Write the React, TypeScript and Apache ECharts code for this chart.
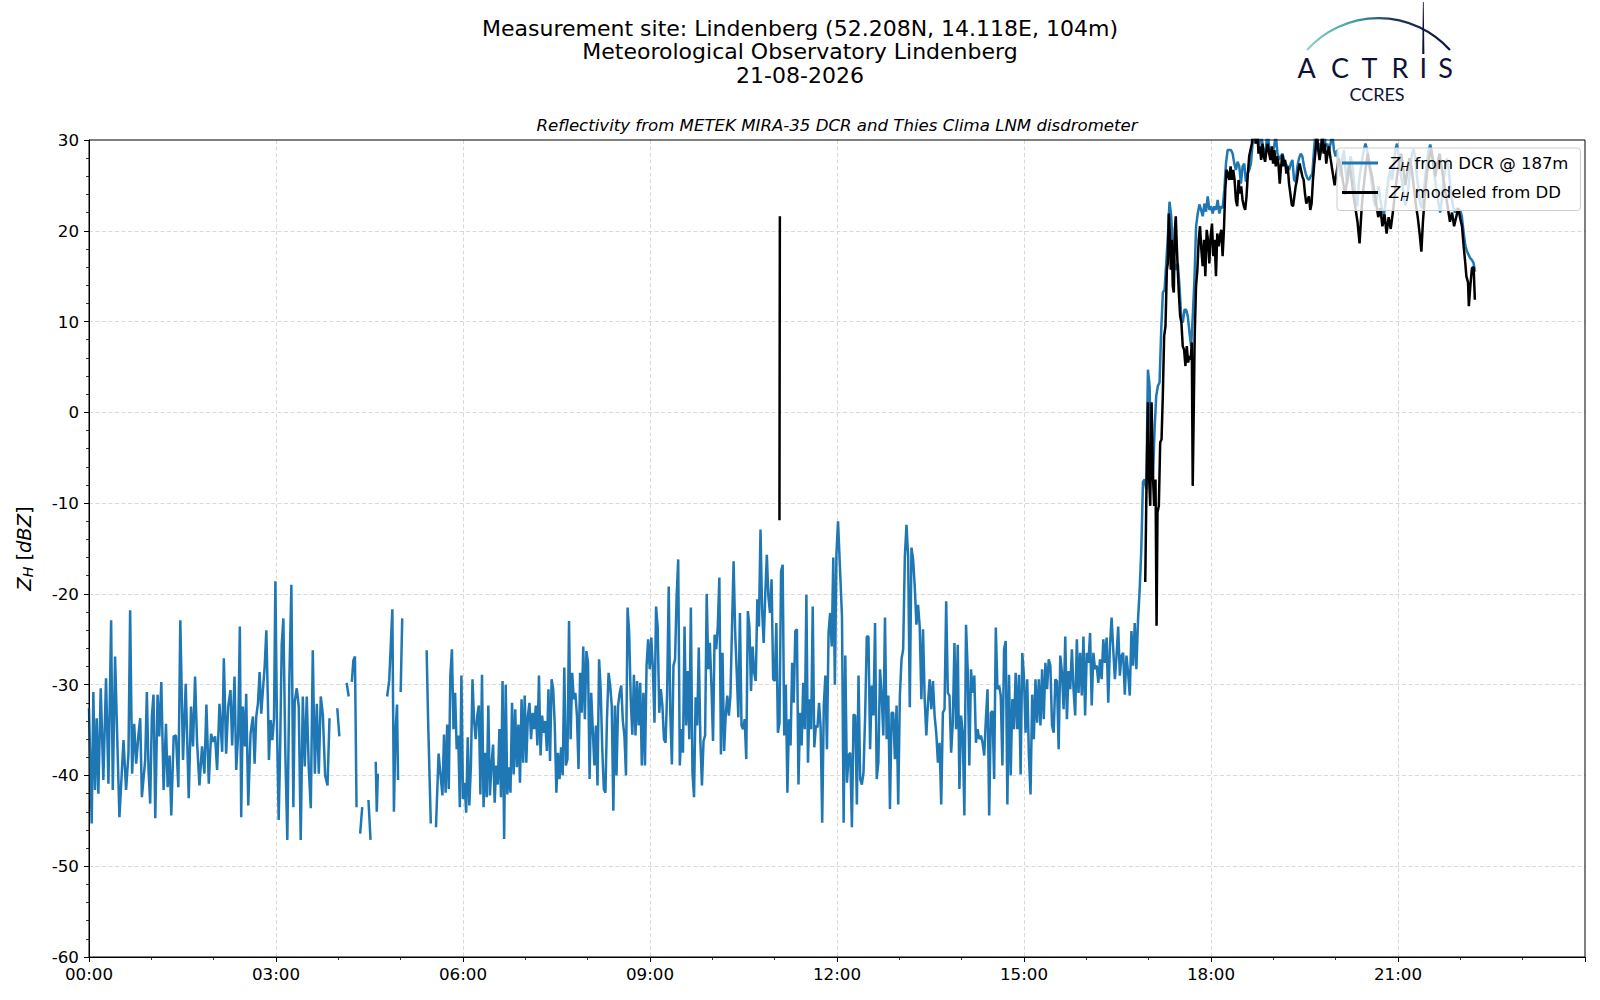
import React, { useEffect, useRef } from "react";
import * as echarts from "echarts";

type Pt = [number, number | null];

// ---------------- texts ----------------
const TITLE_LINES = [
  "Measurement site: Lindenberg (52.208N, 14.118E, 104m)",
  "Meteorological Observatory Lindenberg",
  "21-08-2026",
];
const SUBTITLE = "Reflectivity from METEK MIRA-35 DCR and Thies Clima LNM disdrometer";
const DCR_NAME = "Z_H from DCR @ 187m";
const DD_NAME = "Z_H modeled from DD";

// ---------------- axes ----------------
const X_MIN = 0; // minutes of the day
const X_MAX = 1440;
const X_TICK = 180;
const Y_MIN = -60;
const Y_MAX = 30;
const Y_TICK = 10;

// ---------------- Z_H from DCR (minute, dBZ) ----------------
const dcrNight: Pt[] = [
  [0, -32.6], [2.6, -45.3], [4.2, -30.8], [5.8, -41.6], [7.4, -33.7], [9.0, -42.0], [11.3, -30.4], [13.8, -40.5],
  [16.4, -29.3], [18.7, -40.9], [21.3, -22.9], [22.9, -41.6], [25.1, -26.9], [27.4, -36.8], [29.3, -44.6], [33.2, -36.1],
  [35.7, -41.6], [38.0, -37.6], [39.6, -21.8], [41.5, -39.8], [43.5, -34.3], [45.4, -38.7], [47.7, -35.4], [49.3, -33.7],
  [50.9, -42.4], [54.1, -38.3], [55.7, -30.8], [57.3, -39.4], [58.9, -43.1], [60.5, -33.5], [62.1, -31.1], [63.8, -44.7],
  [66.0, -31.1], [67.6, -35.7], [69.6, -29.7], [71.8, -41.6], [74.1, -34.3], [75.7, -41.3], [77.6, -37.8], [79.2, -44.4],
  [81.5, -35.7], [83.7, -35.6], [86.0, -41.3], [87.9, -22.9], [90.5, -38.3], [93.1, -29.9], [96.0, -42.5], [98.2, -32.4],
  [100.1, -36.8], [102.1, -29.1], [104.0, -36.3], [106.3, -41.1], [108.8, -36.8], [111.1, -39.8], [113.0, -32.2], [115.3, -40.9],
  [117.5, -35.4], [119.5, -36.3], [121.4, -35.7], [123.3, -39.4], [125.6, -32.1], [128.2, -37.4], [129.8, -27.1], [132.0, -37.6],
  [134.0, -32.4], [136.2, -30.6], [137.8, -36.7], [140.1, -29.1], [141.7, -39.4], [143.6, -35.4], [145.2, -23.6], [146.5, -44.6],
  [148.1, -32.4], [150.1, -36.8], [151.3, -31.0], [153.3, -43.3], [155.5, -35.4], [157.8, -33.5], [159.4, -38.7], [161.0, -33.5],
  [162.6, -32.1], [164.2, -28.6], [165.8, -33.2], [167.4, -30.6], [169.1, -28.0], [170.7, -24.0], [172.3, -32.4], [173.2, -38.3],
  [174.8, -33.9], [176.5, -36.1], [178.1, -33.7], [179.4, -18.6], [181.0, -34.8], [182.6, -44.9], [183.9, -37.6], [185.5, -25.6],
  [187.1, -22.7], [189.0, -37.6], [190.9, -47.1], [192.9, -29.1], [194.8, -19.0], [196.7, -43.5], [198.0, -31.9], [200.0, -30.4],
  [201.9, -32.4], [203.8, -47.1], [205.8, -31.3], [207.7, -39.0], [209.6, -31.3], [211.6, -39.4], [213.5, -43.6], [215.4, -26.2],
  [217.4, -39.8], [219.3, -32.1], [221.2, -39.8], [223.1, -31.3], [225.1, -33.3], [227.3, -40.0], [229.6, -41.1], [231.5, -33.7],
  [235, null], [239, -32.6], [241, -35.7], [244, null], [248, -29.8], [250, -31.3], [251.5, null],
  [253, -29.7], [254.5, -27.3], [256, -26.9], [257.5, -43.5], [259, null], [261, -46.4], [263, -43.5], [265, null],
  [269, -42.7], [271, -47.1], [273, null], [276, -38.5], [277, -44.0], [278, -39.8], [282, null],
  [287, -31.3], [289, -29.5], [292, -21.7], [293.5, -44.0], [295, -35.2], [296.5, -32.2], [297.5, -40.5], [298.8, null],
  [300, -30.8], [301.5, -22.7], [310, null], [325, -26.2], [326.5, -34.3], [329, -45.3], [331, null],
  [334, -45.7], [336.5, -37.6],
];

const dcrMorningStart = 340.2;
const dcrMorningStep = 1.5232;
const dcrMorning = [
  -42.2, -35.5, -41.9, -34.4, -41.5, -29.0, -26.1, -34.9, -30.9, -37.1,
  -35.6, -43.5, -29.0, -42.6, -40.8, -44.1, -35.8, -43.3, -38.9, -29.4,
  -34.0, -36.0, -33.4, -32.3, -42.1, -28.9, -43.5, -37.5, -42.4, -32.3,
  -42.2, -38.9, -36.6, -43.0, -38.9, -41.0, -34.9, -42.4, -29.6, -47.0,
  -30.0, -42.1, -39.1, -41.9, -32.0, -39.9, -32.7, -39.1, -34.4, -40.8,
  -31.6, -38.6, -31.2, -38.6, -33.4, -32.0, -36.0, -33.1, -34.9, -32.3,
  -36.7, -29.0, -37.8, -33.4, -35.3, -34.0, -37.3, -30.5, -38.4, -29.4,
  -30.5, -34.5, -41.9, -37.5, -40.4, -36.9, -40.0, -28.1, -38.9, -38.2,
  -23.0, -36.0, -28.7, -31.6, -30.9, -33.4, -39.3, -28.7, -33.1, -25.8,
  -33.8, -26.3, -27.6, -40.4, -30.9, -34.9, -38.9, -34.5, -41.1, -27.2,
  -30.5, -37.1, -41.5, -41.9, -33.6, -28.7, -30.1, -32.3, -43.9, -32.3,
  -40.0, -32.3, -30.9, -30.1, -34.0, -35.6, -40.0, -21.5, -24.3, -31.6,
  -35.5, -28.9, -35.6, -29.6, -34.5, -29.8, -38.9, -30.9, -38.9, -27.9,
  -25.0, -28.3, -24.8, -28.3, -34.2, -21.4, -23.6, -33.1, -30.5, -32.3,
  -36.0, -36.4, -30.9, -19.2, -33.1, -38.8, -27.9, -27.2, -20.3, -16.2,
  -38.9, -34.9, -37.5, -23.6, -34.5, -28.5, -36.0, -21.5, -39.7, -42.4,
  -31.4, -34.5, -25.9, -36.2, -41.1, -36.2, -35.6, -20.0, -28.3, -25.4,
  -30.1, -36.2, -24.5, -26.1, -23.6, -18.2, -37.7, -26.5, -37.3, -33.4,
  -31.2, -33.4, -31.2, -23.6, -16.4, -24.3, -28.7, -33.6, -22.1, -34.5,
  -34.9, -33.8, -38.2, -21.9, -23.6, -30.7, -25.8, -28.7, -29.6, -20.6,
  -23.6, -12.9, -21.7, -25.4, -20.1, -15.7, -20.3, -22.1, -18.4, -29.4,
  -29.6, -23.2, -35.3, -34.2, -17.5, -16.8, -35.6, -30.0, -41.9, -33.8,
  -36.7, -27.6, -32.0, -24.1, -23.9, -41.0, -33.1, -36.7, -29.8, -34.9,
  -20.1, -38.6, -31.6, -34.9, -21.4, -36.9, -34.5, -34.7, -32.0, -34.7,
  -45.2, -32.3, -29.0, -37.1, -24.3, -22.1, -25.8, -16.0, -30.0, -15.5,
  -12.0,
];

const dcrAfternoonStart = 724.8;
const dcrAfternoonStep = 1.592;
const dcrAfternoon = [
  -22.5, -45.2, -26.8, -40.8, -37.8, -37.5, -45.7, -33.3, -33.4, -43.2,
  -29.0, -40.4, -41.0, -39.7, -33.4, -24.7, -24.7, -37.1, -30.1, -33.4,
  -23.2, -40.4, -38.6, -28.3, -31.2, -35.6, -22.6, -36.0, -31.2, -43.7,
  -33.1, -33.1, -38.2, -32.3, -43.2, -31.2, -27.2, -26.1, -15.9, -12.4,
  -15.9, -32.5, -14.9, -16.2, -19.2, -23.4, -21.2, -23.6, -31.6, -23.9,
  -31.6, -35.6, -32.0, -29.4, -32.7, -29.6, -33.4, -35.3, -38.6, -36.4,
  -43.2, -33.1, -32.7, -20.8, -30.9, -31.2, -37.5, -34.2, -25.4, -34.9,
  -25.6, -41.5, -33.4, -35.3, -44.4, -23.4, -28.3, -38.9, -28.3, -30.9,
  -29.0, -36.4, -34.9, -36.0, -35.6, -36.4, -37.8, -33.8, -30.5, -44.4,
  -33.1, -32.9, -40.4, -23.7, -30.5, -30.1, -31.2, -38.9, -26.1, -25.2,
  -43.2, -28.9, -40.0, -31.6, -34.9, -28.7, -34.9, -28.9, -39.9, -26.5,
  -29.0, -35.3, -29.4, -37.8, -42.1, -31.1, -36.0, -29.4, -34.2, -29.4,
  -34.5, -28.3, -33.8, -27.6, -30.5, -27.2, -27.9, -34.5, -35.3, -29.4,
  -29.6, -37.1, -26.8, -28.7, -32.7, -24.7, -33.8, -28.5, -30.5, -26.1,
  -30.5, -33.4, -25.0, -30.9, -26.5, -31.2, -24.7, -33.4, -26.5, -27.6,
  -24.3, -32.3, -26.5, -28.3, -27.9, -29.8, -27.2, -29.4, -25.0, -27.6,
  -24.8, -32.0, -25.8, -22.6, -26.1, -29.4, -26.8, -23.6, -29.0, -26.8,
  -26.5, -31.1, -26.8, -28.7, -31.2, -24.1, -27.9, -23.2, -28.3, -22.8,
  -19.5,
];

const dcrStormStart = 1012.9;
const dcrStormStep = 1.5985;
const dcrStorm = [
  -15.1, -7.7, -7.4, -8.5, 4.7, 2.9, -5.5, -7.4, -1.9, 1.8,
  2.9, 3.3, 9.1, 13.2, 13.5, 16.4, 19.4, 23.2, 21.6, 17.9,
  16.4, 15.7, 16.4, 13.9, 10.6, 9.9, 11.3, 11.3, 10.6, 8.8,
  7.3, 10.6, 14.6, 20.5, 21.9, 22.9, 22.3, 21.6, 23.0, 22.1,
  23.8, 22.3, 22.7, 21.9, 22.7, 22.3, 23.4, 21.9, 22.7, 22.5,
  24.5, 27.4, 28.9, 28.9, 28.9, 28.5, 27.4, 26.7, 27.6, 27.1,
  25.2, 27.1, 27.4, 25.4, 26.3, 26.7, 27.4, 29.6, 30.4,
  29.6, 31.5, 29.3, 30.8, 29.6, 28.5, 28.9, 31.2, 29.3, 28.2,
  28.5, 29.3, 30.6, 28.5, 27.8, 28.2, 28.5, 27.8, 27.4, 27.1,
  26.7, 27.4, 27.8, 25.6, 25.4, 27.1, 28.0, 28.5, 28.2, 27.1,
  26.3, 25.8, 25.6, 26.0, 26.3, 28.9, 31.0, 29.6, 29.6, 28.9,
  29.6, 31.4, 29.3, 29.6, 28.9, 29.6, 30.8, 28.9,
  28.2, 28.9, 27.4, 26.0, 27.8, 28.9, 26.7, 25.2, 26.3, 28.2,
  27.4, 25.6, 23.8, 22.7, 25.2, 26.7, 27.8, 28.9, 29.6, 28.9,
  27.4, 26.3, 24.9, 23.4, 22.7, 23.8, 24.9, 23.4, 22.3, 21.6,
  23.0, 24.5, 26.0, 26.7, 25.6, 27.1, 28.9, 29.6, 28.2,
  26.5, 25.5, 24.0, 22.8, 23.5, 25.0, 27.0, 28.5, 29.0, 28.0,
  26.0, 24.5, 23.0, 22.5, 24.0, 26.0, 27.5, 28.8, 29.5, 28.5,
  27.0, 25.5, 24.0, 23.0, 22.0, 23.5, 25.5, 27.0, 28.0, 27.0,
  25.0, 23.5, 22.5, 22.0, 22.5, 22.0, 22.3, 21.6, 20.0, 18.5,
  17.8, 17.4, 17.0, 16.8, 16.5, 15.5,
];

// ---------------- Z_H modeled from DD (minute, dBZ) ----------------
const ddSpike: Pt[] = [[664.6, -11.9], [665.0, 21.6], [700, null]];

const ddRise: Pt[] = [
  [1016.7, -18.7], [1017.7, -9.9], [1019.3, 1.1], [1020.2, -6.6], [1021.5, -10.3], [1022.8, 1.1], [1024.1, -7.0],
  [1025.3, -10.3], [1026.6, -7.4], [1027.6, -23.5], [1028.5, -11.0], [1029.8, -10.3], [1031.1, -3.3], [1032.4, -3.0],
  [1033.6, 1.8], [1034.9, 8.4], [1036.2, 9.5], [1037.5, 15.7], [1038.4, 16.4], [1039.4, 21.9], [1040.4, 19.7],
  [1041.3, 15.7], [1042.3, 19.0], [1043.2, 13.9], [1044.2, 13.2], [1045.2, 20.1], [1046.1, 21.6], [1047.1, 18.3],
  [1048.0, 15.7], [1049.0, 13.2], [1050.3, 10.6], [1051.5, 9.9], [1052.8, 7.3], [1054.1, 6.9], [1055.4, 5.1],
  [1056.7, 7.3], [1058.0, 5.5], [1059.2, 6.2], [1060.5, 5.8], [1061.5, 7.7], [1062.4, -8.1], [1063.4, 0.3],
  [1064.3, 8.4],
];

const ddHighStart = 1065.6;
const ddHighStep = 1.2788;
const ddHigh = [
  13.9, 15.7, 19.0, 20.5, 17.9, 16.1, 19.0, 15.0, 20.1, 19.0,
  16.4, 19.4, 20.8, 17.2, 19.0, 15.0, 19.7, 18.3, 19.4, 20.1,
  17.2, 20.1, 24.5, 26.7, 26.3, 25.6, 27.1, 25.6, 26.7, 25.6,
  23.4, 22.7, 25.6, 24.1, 24.9, 23.4, 22.7, 22.3, 23.8, 26.3,
  28.2, 28.9, 29.6, 31.0, 32.0, 29.6, 31.5, 28.5, 29.3, 27.8,
  29.6, 28.2, 27.6, 28.9, 29.6, 28.5, 27.8, 29.3, 27.4, 28.9,
  27.1, 28.2, 27.4, 25.2, 27.1, 28.4, 27.1, 27.8, 26.3, 27.1,
  25.2, 24.1, 22.9, 22.7, 23.8, 24.9, 25.6, 26.7, 27.4, 26.7,
  26.0, 25.6, 24.1, 23.0, 23.4, 23.8, 22.3, 23.0, 25.6, 27.4,
  28.9, 30.8, 28.9, 27.8, 28.9, 31.0, 28.5, 29.6, 27.4, 28.5,
  29.3,
];

const ddTail: Pt[] = [
  [1195, 28.0], [1197, 26.5], [1199, 25.0], [1201, 26.5], [1203, 28.0], [1205, 27.0], [1207, 25.5], [1209, 24.0],
  [1211, 25.5], [1213, 27.5], [1215, 26.0], [1217, 24.0], [1219, 22.5], [1221, 21.0], [1223, 18.6], [1225, 22.5],
  [1227, 25.0], [1229, 27.0], [1231, 28.5], [1233, 27.0], [1235, 26.0], [1237, 24.5], [1239, 23.0], [1241, 21.5],
  [1243, 22.5], [1245, 20.5], [1247, 21.8], [1249, 19.7], [1251, 21.5], [1253, 20.2], [1255, 22.0], [1257, 24.0],
  [1259, 26.0], [1261, 27.5], [1263, 28.5], [1265, 27.0], [1267, 25.0], [1269, 26.5], [1271, 28.0], [1273, 27.0],
  [1275, 25.0], [1277, 23.0], [1279, 21.5], [1281, 19.5], [1282.5, 17.7], [1284, 21.0], [1286, 24.0], [1288, 26.5],
  [1290, 28.0], [1292, 29.0], [1294, 27.5], [1296, 26.0], [1298, 27.5], [1300, 28.5], [1302, 27.0], [1304, 25.5],
  [1306, 24.0], [1308, 22.5], [1310, 21.0], [1312, 22.0], [1314, 20.5], [1316, 21.5], [1318, 22.5], [1320, 21.3],
  [1321.6, 20.5], [1323.2, 18.3], [1324.8, 16.4], [1325.8, 15.0], [1327.4, 14.3], [1328.2, 11.7], [1329.6, 13.9],
  [1331.2, 15.9], [1332.8, 16.0], [1334, 12.4],
];

// ---------------- helpers ----------------
const seg = (start: number, step: number, vals: number[]): Pt[] =>
  vals.map((v, i) => [Math.round((start + i * step) * 100) / 100, v] as Pt);
const toData = (pts: Pt[]) => pts.map(([t, v]) => [t, v === null ? "-" : v]);

const dcrData = toData([
  ...dcrNight,
  ...seg(dcrMorningStart, dcrMorningStep, dcrMorning),
  ...seg(dcrAfternoonStart, dcrAfternoonStep, dcrAfternoon),
  ...seg(dcrStormStart, dcrStormStep, dcrStorm),
]);
const ddData = toData([...ddSpike, ...ddRise, ...seg(ddHighStart, ddHighStep, ddHigh), ...ddTail]);

const FONT = "DejaVu Sans";
const NAVY = "#0f1238";

const richFor = (size: number, lh: number) => ({
  i: { fontStyle: "italic", fontSize: size, lineHeight: lh, fontFamily: FONT, color: "#000" },
  s: { fontStyle: "italic", fontSize: Math.round(size * 0.7), lineHeight: Math.round(lh * 0.5), verticalAlign: "bottom", fontFamily: FONT, color: "#000" },
  n: { fontSize: size, lineHeight: lh, fontFamily: FONT, color: "#000" },
});

const legendLabel = (name: string) =>
  name === DCR_NAME ? "{i|Z}{s|H}{n| from DCR @ 187m}" : "{i|Z}{s|H}{n| modeled from DD}";

const hhmm = (v: number) => {
  if (v >= X_MAX) return "";
  const h = Math.floor(v / 60);
  const m = Math.round(v % 60);
  return String(h).padStart(2, "0") + ":" + String(m).padStart(2, "0");
};

const logoLetters: [string, number][] = [
  ["A", 1306.7], ["C", 1340], ["T", 1369.5], ["R", 1400], ["I", 1423.3], ["S", 1445.7],
];

export default function App() {
  const ref = useRef<HTMLDivElement>(null);
  useEffect(() => {
    if (!ref.current) return;
    const chart = echarts.init(ref.current, undefined, { renderer: "svg" });
    const gridLine = { color: "#cfcfcf", width: 0.8, type: [4, 2.5] as number[] };
    const option: any = {
      animation: false,
      backgroundColor: "#ffffff",
      textStyle: { fontFamily: FONT },
      title: {
        text: TITLE_LINES.join("\n"),
        left: "center",
        top: 16.5,
        padding: 0,
        textStyle: { fontSize: 22, fontWeight: "normal", color: "#000", lineHeight: 23.5, fontFamily: FONT },
      },
      grid: { left: 89, right: 15, top: 140, bottom: 43, show: true, borderColor: "#000", borderWidth: 1, z: 10 },
      legend: {
        orient: "vertical",
        left: 1337,
        top: 148,
        icon: "rect",
        itemWidth: 36,
        itemHeight: 2.8,
        itemGap: 11,
        padding: [6.5, 12, 8, 5],
        backgroundColor: "rgba(255,255,255,0.8)",
        borderColor: "#cccccc",
        borderWidth: 1,
        borderRadius: 3,
        selectedMode: false,
        formatter: legendLabel,
        textStyle: { fontSize: 16.5, color: "#000", fontFamily: FONT, padding: [0, 0, 0, 6], rich: richFor(16.5, 20) },
        data: [DCR_NAME, DD_NAME],
      },
      xAxis: {
        type: "value",
        min: X_MIN,
        max: X_MAX,
        interval: X_TICK,
        axisLine: { show: true, onZero: false, lineStyle: { color: "#000", width: 1 } },
        axisTick: { show: true, length: 5, lineStyle: { color: "#000", width: 1 } },
        minorTick: { show: true, splitNumber: 3, length: 3, lineStyle: { color: "#000", width: 0.8 } },
        axisLabel: { fontSize: 16.7, color: "#000", margin: 8, fontFamily: FONT, formatter: hhmm, showMaxLabel: false },
        splitLine: { show: true, showMinLine: false, showMaxLine: false, lineStyle: gridLine },
      },
      yAxis: {
        type: "value",
        min: Y_MIN,
        max: Y_MAX,
        interval: Y_TICK,
        name: "{i|Z}{s|H}{n| [}{i|dBZ}{n|]}",
        nameLocation: "middle",
        nameGap: 54,
        nameRotate: 90,
        nameTextStyle: { fontSize: 19.5, color: "#000", fontFamily: FONT, rich: richFor(19.5, 22) },
        axisLine: { show: true, onZero: false, lineStyle: { color: "#000", width: 1 } },
        axisTick: { show: true, length: 5, lineStyle: { color: "#000", width: 1 } },
        minorTick: { show: true, splitNumber: 5, length: 3, lineStyle: { color: "#000", width: 0.8 } },
        axisLabel: { fontSize: 16.7, color: "#000", margin: 10, fontFamily: FONT },
        splitLine: { show: true, showMinLine: false, showMaxLine: false, lineStyle: gridLine },
      },
      series: [
        {
          name: DCR_NAME,
          type: "line",
          data: dcrData,
          symbol: "none",
          connectNulls: false,
          clip: true,
          lineStyle: { color: "#1f77b4", width: 2.5 },
          itemStyle: { color: "#1f77b4" },
          z: 2,
        },
        {
          name: DD_NAME,
          type: "line",
          data: ddData,
          symbol: "none",
          connectNulls: false,
          clip: true,
          lineStyle: { color: "#000000", width: 2.5 },
          itemStyle: { color: "#000000" },
          z: 3,
        },
      ],
      graphic: [
        {
          type: "text",
          x: 837,
          y: 125.5,
          style: {
            text: SUBTITLE,
            fontSize: 16.6,
            fontStyle: "italic",
            fontFamily: FONT,
            fill: "#000",
            align: "center",
            verticalAlign: "middle",
            textAlign: "center",
            textVerticalAlign: "middle",
          },
        },
        {
          type: "arc",
          shape: { cx: 1378.5, cy: 114, r: 95.9, startAngle: -2.412, endAngle: -0.73, clockwise: true },
          style: {
            fill: "none",
            lineWidth: 2.2,
            stroke: {
              type: "linear",
              x: 0,
              y: 0,
              x2: 1,
              y2: 0,
              colorStops: [
                { offset: 0, color: "#8fd3cc" },
                { offset: 0.35, color: "#3a9aa6" },
                { offset: 0.6, color: "#1d3463" },
                { offset: 1, color: NAVY },
              ],
            },
          },
        },
        {
          type: "polygon",
          shape: { points: [[1422.9, 2], [1423.7, 2], [1424.4, 54], [1422.2, 54]] },
          style: { fill: NAVY },
        },
        ...logoLetters.map(([ch, x]) => ({
          type: "text",
          x,
          y: 67.5,
          style: {
            text: ch,
            fontSize: 27,
            fontFamily: "Lato",
            fill: NAVY,
            align: "center",
            verticalAlign: "middle",
            textAlign: "center",
            textVerticalAlign: "middle",
          },
        })),
        {
          type: "text",
          x: 1377,
          y: 93.5,
          style: {
            text: "CCRES",
            fontSize: 18,
            fontFamily: "Lato",
            fill: NAVY,
            align: "center",
            verticalAlign: "middle",
            textAlign: "center",
            textVerticalAlign: "middle",
          },
        },
      ],
    };
    chart.setOption(option);
    return () => chart.dispose();
  }, []);
  return (
    <div
      ref={ref}
      style={{ position: "absolute", left: 0, top: 0, width: 1600, height: 1000, background: "#ffffff" }}
    />
  );
}
